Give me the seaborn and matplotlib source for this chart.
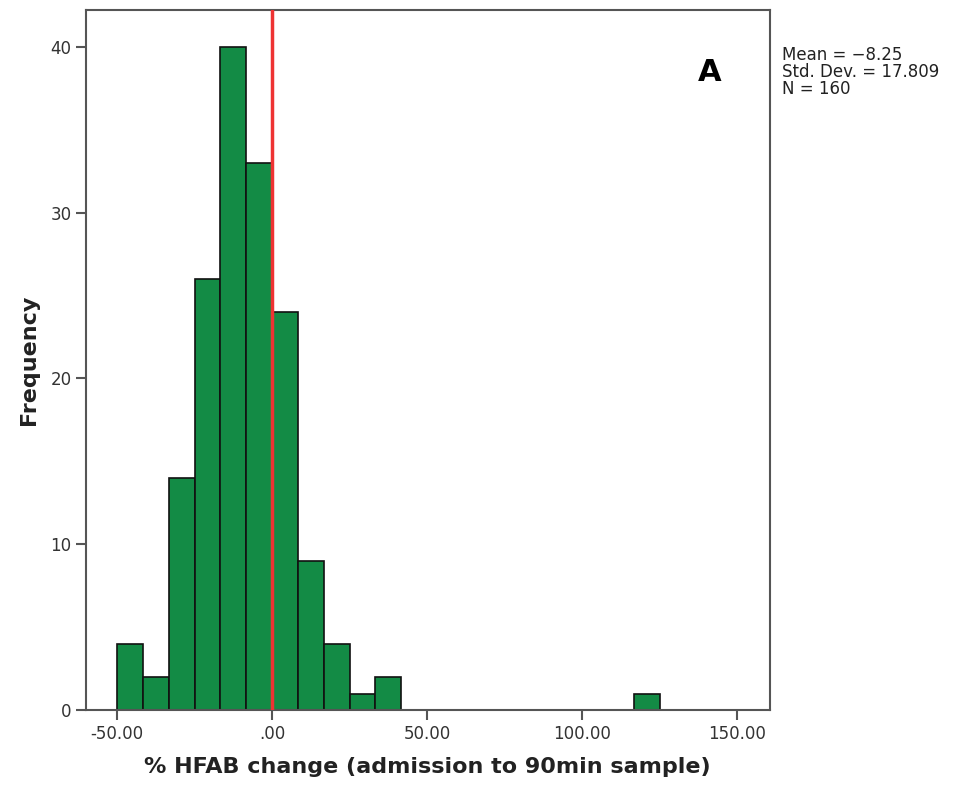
import numpy as np
import pandas as pd
import matplotlib
matplotlib.use("Agg")
import matplotlib.pyplot as plt
import seaborn as sns

# Data
bin_centers = [-45.83, -37.5, -29.17, -20.83, -12.5, -4.17, 4.17, 12.5, 20.83, 29.17, 37.5, 120.83]
counts = [4, 2, 14, 26, 40, 33, 24, 9, 4, 1, 2, 1]
bin_edges = [-50 + i * 50 / 6 for i in range(0, 23)]
x_ticks = [-50, 0, 50, 100, 150]
x_tick_labels = ["-50.00", ".00", "50.00", "100.00", "150.00"]
y_ticks = [0, 10, 20, 30, 40]
stats_text = "Mean = \u22128.25\nStd. Dev. = 17.809\nN = 160"

sns.set_theme(style="white")
plt.rcParams['font.family'] = ['DejaVu Sans']

fig = plt.figure(figsize=(9.56, 7.89), dpi=100)
ax = fig.add_axes([0.090, 0.100, 0.715, 0.887])

df = pd.DataFrame({"x": bin_centers, "w": counts})
sns.histplot(data=df, x="x", weights="w", bins=bin_edges, color="#138B45",
             edgecolor="#111111", linewidth=1.2, alpha=1.0, ax=ax)

ax.axvline(0, color="#EE3333", linewidth=2.5, zorder=5)

ax.set_xlim(-60, 160.5)
ax.set_ylim(0, 42.2)
ax.set_xticks(x_ticks)
ax.set_xticklabels(x_tick_labels)
ax.set_yticks(y_ticks)
ax.tick_params(axis="both", direction="out", length=7, width=1.5, colors="#555555",
               labelcolor="#333333", labelsize=12, left=True, bottom=True)
for s in ax.spines.values():
    s.set_color("#555555")
    s.set_linewidth(1.5)

ax.set_xlabel("% HFAB change (admission to 90min sample)", fontsize=16, fontweight="bold",
              color="#222222", labelpad=10)
ax.set_ylabel("Frequency", fontsize=16, fontweight="bold", color="#222222", labelpad=8)

ax.text(0.912, 0.911, "A", transform=ax.transAxes, fontsize=22, fontweight="bold",
        ha="center", va="center", color="black")
fig.text(0.818, 0.942, stats_text, fontsize=12, color="#222222", ha="left", va="top",
         linespacing=0.95)

fig.savefig("out.png", dpi=100)
